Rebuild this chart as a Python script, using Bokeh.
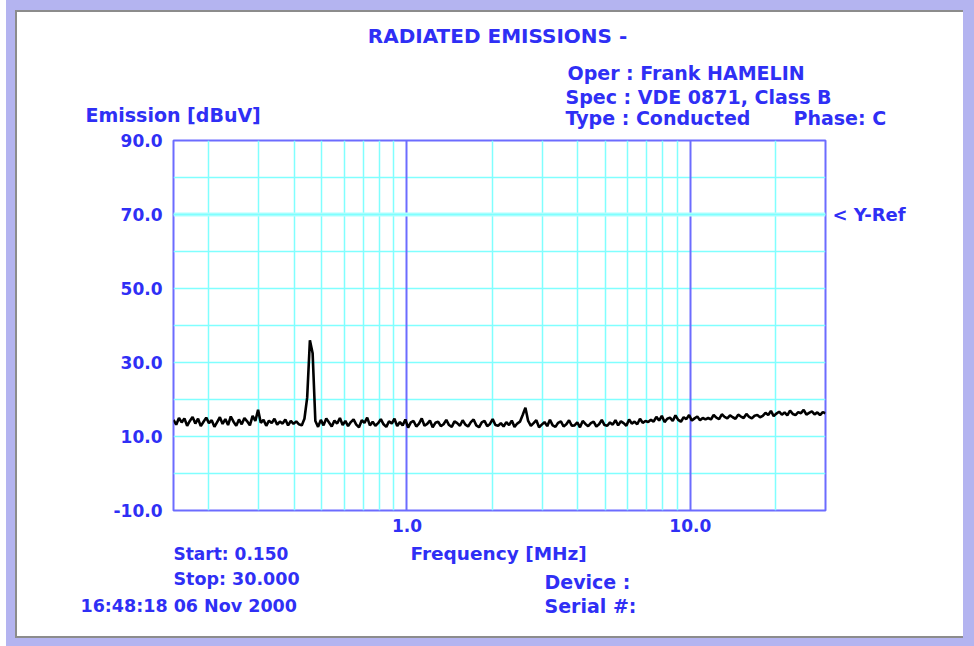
import numpy as np
from bokeh.plotting import figure
from bokeh.layouts import column
from bokeh.models import (FixedTicker, PrintfTickFormatter, Grid, Label, Span,
                          Range1d)
from bokeh.embed import file_html
from bokeh.resources import INLINE

# ---------------- data ----------------
START_MHZ = 0.150
STOP_MHZ = 30.000

emission_dbuv = [
    14.5, 13.2, 15.0, 13.8, 14.9, 12.9, 14.2, 15.3, 13.5, 14.8,
    12.8, 14.0, 15.1, 13.6, 14.4, 12.6, 13.9, 15.2, 13.4, 14.7,
    13.1, 15.4, 14.0, 12.9, 14.6, 13.3, 15.0, 14.1, 13.0, 15.6,
    14.2, 17.2, 13.7, 14.5, 12.9, 14.3, 13.6, 14.8, 13.2, 14.0,
    13.5, 14.6, 13.0, 14.2, 13.4, 14.1, 13.3,
    13.0, 14.8, 20.5, 36.0, 32.5, 14.2,
    12.6, 14.5, 13.0, 14.9, 13.8, 12.7, 14.3, 13.5, 15.0, 13.1,
    14.2, 12.8, 13.9, 14.6, 13.2, 12.5, 14.4, 13.7, 15.1, 13.0,
    14.0, 12.9, 13.6, 14.7, 13.3, 12.6, 14.1, 13.5, 14.8, 12.8,
    13.9,
    13.0, 14.6, 12.4, 13.8, 14.2, 12.7, 13.5, 14.9, 12.9, 13.4,
    14.3, 12.5, 13.7, 14.0, 12.8, 13.3, 14.5, 13.1, 12.6, 14.1,
    13.6, 12.9, 14.4, 13.2, 12.7, 13.9, 14.6, 13.0, 12.5, 13.8,
    14.2, 12.8, 13.4, 14.7, 13.1, 12.9, 13.6,
    12.7, 13.9, 13.1, 14.3, 12.6, 13.5, 14.0, 15.8, 17.8, 14.2,
    12.9, 13.6, 14.4, 12.5, 13.2, 13.9, 12.8, 14.5, 13.0, 12.6,
    13.7, 14.1, 12.7, 13.3, 14.4, 12.9, 13.0, 13.8, 12.5, 14.2,
    13.4, 12.8, 13.6, 14.0, 12.7, 13.3, 14.5, 13.1, 12.9, 13.8,
    13.2, 14.4, 13.0, 14.1, 13.6, 12.9, 14.6, 13.5, 14.0, 13.3,
    14.8, 13.7, 14.2, 13.9, 14.5,
    14.0, 15.3, 14.3, 15.6, 13.9, 14.8, 15.1, 14.2, 15.7, 14.5,
    14.0, 15.2, 14.7, 15.8, 14.3, 14.9, 15.4, 14.4, 15.0, 14.6,
    15.0, 14.6, 15.8, 15.1, 14.7, 16.0, 15.3, 14.9, 15.7, 15.2,
    14.8, 15.9, 15.4, 15.0, 16.1, 15.3, 14.9, 15.6, 15.8, 15.2,
    15.6, 16.4, 15.8, 16.9, 15.5, 16.2, 16.7, 15.9, 16.5, 15.7,
    17.0, 16.1, 15.8, 16.6, 16.3, 17.2, 15.9, 16.4, 16.8, 16.0,
    16.5, 15.8, 16.6, 16.3,
]
# sweep points: log-spaced between the start and stop frequencies
freq_mhz = np.geomspace(START_MHZ, STOP_MHZ, len(emission_dbuv))

y_ticks = [-10.0, 10.0, 30.0, 50.0, 70.0, 90.0]
x_ticks = [1.0, 10.0]
minor_freq_grid = [0.2, 0.3, 0.4, 0.5, 0.6, 0.7, 0.8, 0.9,
                   2.0, 3.0, 4.0, 5.0, 6.0, 7.0, 8.0, 9.0, 20.0]
decade_grid = [1.0, 10.0]
level_grid = [0.0, 10.0, 20.0, 30.0, 40.0, 50.0, 60.0, 70.0, 80.0]
y_ref = 70.0

# ---------------- style / layout ----------------
W = 974
HEAD_H = 129            # header strip (page y 0..129)
MAIN_TOP = 11           # frame starts at page y 140
FRAME_H = 370
MAIN_BOTTOM = 30
MAIN_H = MAIN_TOP + FRAME_H + MAIN_BOTTOM     # page y 129..540
FOOT_Y0 = HEAD_H + MAIN_H                     # 540
FOOT_H = 646 - FOOT_Y0                        # 106
FRAME_L, FRAME_W = 173, 652

BLUE_TXT = "#2f2ff5"
BLUE_LINE = "#6c6cff"
CYAN = "#80ffff"
PURPLE = "#b4b4f0"
GREY = "#8c8c8c"
FONT = "DejaVu Sans"


def no_frame_align(fig):
    if "frame_align" in fig.properties():
        fig.frame_align = False


def text_strip(height, y0):
    f = figure(width=W, height=height, x_range=Range1d(0, W),
               y_range=Range1d(y0 + height, y0), title=None,
               output_backend="svg", toolbar_location=None,
               x_axis_location=None, y_axis_location=None,
               min_border=0, min_border_left=0, min_border_right=0,
               min_border_top=0, min_border_bottom=0)
    f.grid.visible = False
    f.outline_line_color = None
    f.background_fill_alpha = 0
    f.border_fill_alpha = 0
    no_frame_align(f)
    return f


def lab(fig, text, px, py, align="left", size="19px", units="data"):
    fig.add_layout(Label(x=px, y=py, x_units=units, y_units=units,
                         text=text, text_align=align, text_baseline="middle",
                         text_font=FONT, text_font_style="bold",
                         text_font_size=size, text_color=BLUE_TXT),
                   "center" if units == "data" else "right")


# ---- header ----
head = text_strip(HEAD_H, 0)
lab(head, "RADIATED EMISSIONS -", 497, 35, align="center", size="20px")
lab(head, "Oper : Frank HAMELIN", 567, 72)
lab(head, "Spec : VDE 0871, Class B", 565, 96)
lab(head, "Type : Conducted", 565, 117.5)
lab(head, "Phase: C", 793, 117.5)
lab(head, "Emission [dBuV]", 85, 114)

# ---- main plot ----
p = figure(width=W, height=MAIN_H, x_axis_type="log",
           x_range=(START_MHZ, STOP_MHZ), y_range=(-10, 90), title=None,
           output_backend="svg", toolbar_location=None,
           min_border_left=FRAME_L, min_border_top=MAIN_TOP,
           min_border_right=W - FRAME_L - FRAME_W,
           min_border_bottom=MAIN_BOTTOM)
no_frame_align(p)
p.background_fill_color = "white"
p.border_fill_alpha = 0
p.outline_line_color = BLUE_LINE
p.outline_line_width = 2

for ax in (p.xaxis[0], p.yaxis[0]):
    ax.axis_line_color = None
    ax.major_tick_line_color = None
    ax.minor_tick_line_color = None
    ax.major_tick_out = 0
    ax.minor_tick_out = 0
    ax.major_label_text_color = BLUE_TXT
    ax.major_label_text_font = FONT
    ax.major_label_text_font_style = "bold"
    ax.major_label_text_font_size = "17px"

p.xaxis.ticker = FixedTicker(ticks=x_ticks)
p.xaxis.formatter = PrintfTickFormatter(format="%.1f")
p.xaxis.major_label_standoff = 8
p.yaxis.ticker = FixedTicker(ticks=y_ticks)
p.yaxis.formatter = PrintfTickFormatter(format="%.1f")
p.yaxis.major_label_standoff = 11

p.xgrid.ticker = FixedTicker(ticks=minor_freq_grid)
p.xgrid.grid_line_color = CYAN
p.xgrid.grid_line_width = 1.5
p.ygrid.ticker = FixedTicker(ticks=level_grid)
p.ygrid.grid_line_color = CYAN
p.ygrid.grid_line_width = 1.5
p.add_layout(Grid(dimension=0, ticker=FixedTicker(ticks=decade_grid),
                  grid_line_color=BLUE_LINE, grid_line_width=2))
p.add_layout(Span(location=y_ref, dimension="width", line_color="#b0ffff",
                  line_width=4, level="underlay"))
p.add_layout(Span(location=y_ref, dimension="width", line_color=CYAN,
                  line_width=1.5, level="underlay"))

p.line(freq_mhz, emission_dbuv, line_color="black", line_width=2.6)

# Y-Ref marker text in the right side panel (canvas units of this plot)
lab(p, "< Y-Ref", 832, 214 - HEAD_H, size="18px", units="canvas")

# ---- footer ----
foot = text_strip(FOOT_H, FOOT_Y0)
lab(foot, "Start: 0.150", 173, 553, size="17px")
lab(foot, "Stop: 30.000", 173, 578, size="17.5px")
lab(foot, "16:48:18 06 Nov 2000", 80, 605, size="17.5px")
lab(foot, "Frequency [MHz]", 410, 553, size="18.5px")
lab(foot, "Device :", 544, 581)
lab(foot, "Serial #:", 544, 605)

page = column(head, p, foot, spacing=0)
# window frame drawn as inset shadows behind the transparent plots
page.styles = {
    "background-color": "white",
    "box-shadow": ", ".join([
        "inset 6px 0 0 0 white",
        f"inset 0 10px 0 0 {PURPLE}",
        f"inset 15px 0 0 0 {PURPLE}",
        f"inset -11px 0 0 0 {PURPLE}",
        f"inset 0 -8px 0 0 {PURPLE}",
        f"inset 0 12px 0 0 {GREY}",
        f"inset 17px 0 0 0 {GREY}",
        f"inset 0 -10px 0 0 {GREY}",
    ]),
}

open("out.html", "w").write(file_html(page, INLINE))
